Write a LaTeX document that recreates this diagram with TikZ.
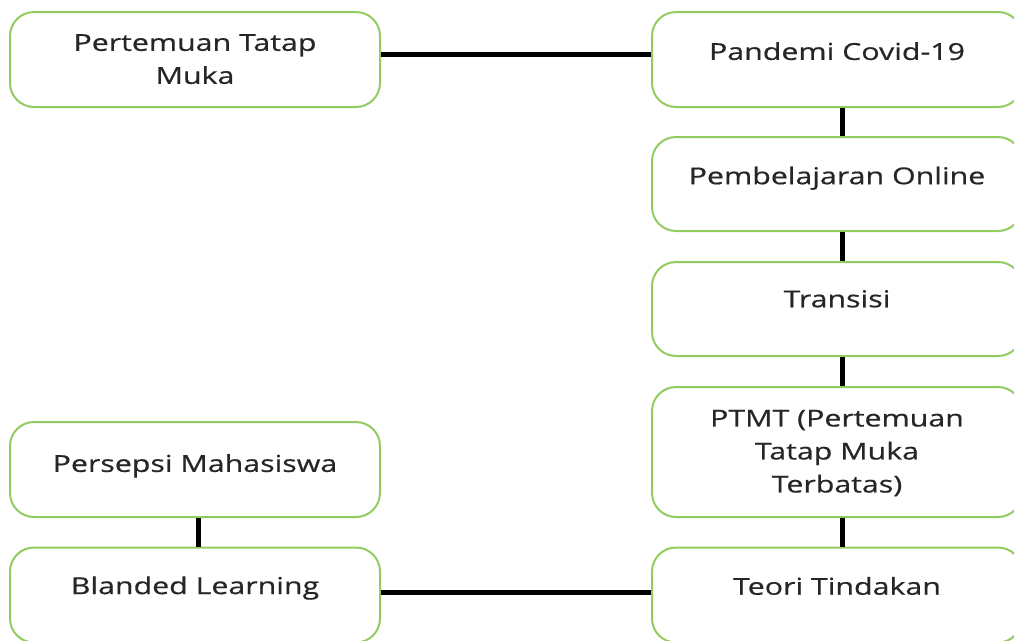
\documentclass[tikz,border=0pt]{standalone}
\usepackage{fontspec}
\setmainfont{Open Sans}[FakeStretch=1.3,FakeBold=0.6]
\definecolor{boxgreen}{RGB}{146,204,96}

\begin{document}
\begin{tikzpicture}[x=0.75pt,y=-0.75pt,line width=3.75pt,
    box/.style={rectangle,rounded corners=18pt,draw=boxgreen,line width=1.5pt,fill=white,
        minimum width=277.5pt,inner sep=0pt},
    txt/.style={anchor=north,align=center,inner sep=0pt,font=\fontsize{17.5}{24.75}\selectfont,text=black!85}]

        \useasboundingbox (0,0) rectangle (1014,640);
        \clip (0,0) rectangle (1014,640);

        % left column
        \node[box, minimum height=71.25pt] (1) at (195,59.5) {};
        \node[box, minimum height=71.25pt] (7) at (195,469.5) {};
        \node[box, minimum height=71.25pt] (8) at (195,595) {};

        % right column
        \node[box, minimum height=71.25pt] (2) at (837,59.5) {};
        \node[box, minimum height=70.5pt] (3) at (837,184) {};
        \node[box, minimum height=70.5pt] (4) at (837,309) {};
        \node[box, minimum height=97.5pt] (5) at (837,452) {};
        \node[box, minimum height=71.25pt] (6) at (837,595) {};

        % texts
        \node[txt] (t1) at ([yshift=-15.5pt]1.north) {Pertemuan Tatap\\Muka};
        \node[txt] (t2) at ([yshift=-21.5pt]2.north) {Pandemi Covid-19};
        \node[txt] (t3) at ([yshift=-21pt]3.north) {Pembelajaran Online};
        \node[txt] (t4) at ([yshift=-20pt]4.north) {Transisi};
        \node[txt] (t5) at ([yshift=-16pt]5.north) {PTMT (Pertemuan\\Tatap Muka\\Terbatas)};
        \node[txt] (t6) at ([yshift=-21pt]6.north) {Teori Tindakan};
        \node[txt] (t7) at ([yshift=-23pt]7.north) {Persepsi Mahasiswa};
        \node[txt] (t8) at ([yshift=-20.5pt]8.north) {Blanded Learning};

        \path[draw=black]
        ([yshift=3.5pt]1.east) edge ([yshift=3.5pt]2.west)
        ([xshift=3.75pt]2.south) edge ([xshift=3.75pt]3.north)
        ([xshift=3.75pt]3.south) edge ([xshift=3.75pt]4.north)
        ([xshift=3.75pt]4.south) edge ([xshift=3.75pt]5.north)
        ([xshift=3.75pt]5.south) edge ([xshift=3.75pt]6.north)
        ([xshift=2.25pt]7.south) edge ([xshift=2.25pt]8.north)
        ([yshift=2.25pt]8.east) edge ([yshift=2.25pt]6.west)
        ;
    \end{tikzpicture}
\end{document}
